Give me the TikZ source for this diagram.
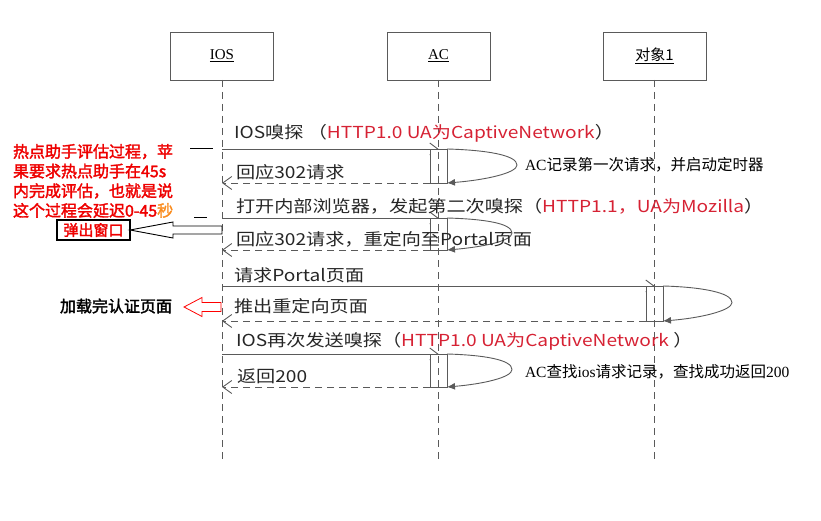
\documentclass[tikz,border=0pt]{standalone}
\usepackage{fontspec}
\usepackage{tikz}
\usetikzlibrary{arrows.meta}
\setmainfont{Liberation Serif}
\newfontfamily\cjkfont{Noto Sans CJK SC}
\newfontfamily\msgfont[FakeStretch=1.16]{Noto Sans CJK SC}
\newfontfamily\boldcjk[FakeBold=2]{Noto Sans CJK SC}
\definecolor{linegray}{RGB}{90,90,90}
\definecolor{msgred}{RGB}{214,34,52}
\definecolor{notered}{RGB}{238,0,0}
\definecolor{noteorange}{RGB}{250,140,30}
\newcommand{\httpred}[1]{\textcolor{msgred}{#1}}
\newcommand{\loopback}[2]{\draw[selfloop] (#1.north east) .. controls +(#2*0.55,1) and +(0,-10) .. ([xshift=#2bp,yshift=1bp]#1.east) .. controls +(0,8) and +(#2*0.55,-3) .. (#1.south east);}

\tikzset{
  objbox/.style={draw=linegray,line width=0.9bp,minimum width=103bp,minimum height=48bp,inner sep=0pt,font=\fontsize{15bp}{17bp}\selectfont},
  lifeline/.style={draw=linegray,line width=0.8bp,dash pattern=on 7bp off 5bp},
  actbox/.style={draw=linegray,fill=white,line width=0.9bp,minimum width=17bp,minimum height=#1,inner sep=0pt},
  callmsg/.style={draw=linegray,line width=0.9bp,-{Straight Barb[length=8bp,width=12bp]}},
  retmsg/.style={draw=linegray,line width=0.9bp,dash pattern=on 7bp off 5bp,-{Straight Barb[length=9bp,width=13bp]}},
  selfloop/.style={draw=linegray,line width=0.9bp,-{Latex[length=8bp,width=7bp]}},
  msgtext/.style={anchor=west,inner sep=0pt,font=\msgfont\fontsize{16.5bp}{19bp}\selectfont,text=black!85},
  sidenote/.style={anchor=west,inner sep=0pt,font=\fontsize{15.5bp}{18bp}\selectfont},
  rednote/.style={anchor=north west,inner sep=0pt,align=left,text=notered,font=\boldcjk\fontsize{16bp}{19.7bp}\selectfont},
  popbox/.style={draw=black,line width=1.5bp,minimum width=73bp,minimum height=20bp,inner sep=0pt,text=notered,font=\boldcjk\fontsize{15bp}{17bp}\selectfont}
}

\begin{document}
\begin{tikzpicture}[x=1bp,y=-1bp,inner sep=0pt,outer sep=0pt]
  \useasboundingbox (0,0) rectangle (821,521);

  \node[objbox] (ios) at (222,56) {\underline{IOS}};
  \node[objbox] (ac) at (438.5,56) {\underline{AC}};
  \node[objbox] (obj) at (654.5,56) {\underline{\cjkfont 对象1}};

  % messages
  \node[actbox=34bp] (act1) at (438.5,166) {};
  \node[actbox=32bp] (act2) at (438.5,234) {};
  \node[actbox=35bp] (act3) at (654.5,303.5) {};
  \node[actbox=33bp] (act4) at (438.5,370.5) {};
  \draw[callmsg] (act1.north -| ios) -- (act1.north);
  \draw[callmsg] (act2.north -| ios) -- (act2.north);
  \draw[callmsg] (act3.north -| ios) -- (act3.north);
  \draw[callmsg] (act4.north -| ios) -- (act4.north);
  \node[actbox=34bp] at (act1) {};
  \node[actbox=32bp] at (act2) {};
  \node[actbox=35bp] at (act3) {};
  \node[actbox=33bp] at (act4) {};
  \draw[retmsg] (act1.south west) -- (act1.south west -| ios);
  \draw[retmsg] (act2.south west) -- (act2.south west -| ios);
  \draw[retmsg] (act3.south west) -- (act3.south west -| ios);
  \draw[retmsg] (act4.south west) -- (act4.south west -| ios);
  \loopback{act1}{70}
  \loopback{act2}{65}
  \loopback{act3}{69}
  \loopback{act4}{65}

  \draw[lifeline] (ios.south) -- ++(0,383);
  \draw[lifeline] (ac.south) -- ++(0,383);
  \draw[lifeline] (obj.south) -- ++(0,383);

  \node[msgtext] (m1) at (234,133) {IOS嗅探 （\httpred{HTTP1.0 UA为CaptiveNetwork}）};
  \node[msgtext] (r1) at (236,172) {回应302请求};
  \node[msgtext] (m2) at (236,206) {打开内部浏览器，发起第二次嗅探（\httpred{HTTP1.1，UA为Mozilla}）};
  \node[msgtext] (r2) at (236,239) {回应302请求，重定向至Portal页面};
  \node[msgtext] (m3) at (234,275) {请求Portal页面};
  \node[msgtext] (r3) at (234,306) {推出重定向页面};
  \node[msgtext] (m4) at (236,341) {IOS再次发送嗅探（\httpred{ HTTP1.0 UA为CaptiveNetwork} ）};
  \node[msgtext] (r4) at (237,376) {返回200};

  \node[sidenote] (n1) at (525,165) {AC{\cjkfont 记录第一次请求，并启动定时器}};
  \node[sidenote] (n4) at (525,372) {AC{\cjkfont 查找}ios{\cjkfont 请求记录，查找成功返回}200};

  \node[rednote] (eval) at (13,144) {热点助手评估过程，苹\\果要求热点助手在45s\\内完成评估，也就是说\\这个过程会延迟0-45\textcolor{noteorange}{秒}};
  \draw[line width=0.9bp] (190,148) -- (213,148);
  \draw[line width=0.9bp] (194,217) -- (207,217);

  \node[popbox] (popup) at (93.5,230) {弹出窗口};
  \draw[line width=0.9bp,fill=white] (popup.east) -- ++(43,-8) -- ++(0,4) -- ++(49,0) -- ++(0,8) -- ++(-49,0) -- ++(0,4) -- cycle;

  \node[anchor=west,font=\boldcjk\fontsize{16bp}{19bp}\selectfont] (loaded) at (60,306) {加载完认证页面};
  \coordinate (loadtip) at (184,307);
  \draw[draw=red,line width=0.8bp] (loadtip) -- ++(18,-9.5) -- ++(0,5) -- ++(19,0) -- ++(0,9) -- ++(-19,0) -- ++(0,5) -- cycle;
\end{tikzpicture}
\end{document}
